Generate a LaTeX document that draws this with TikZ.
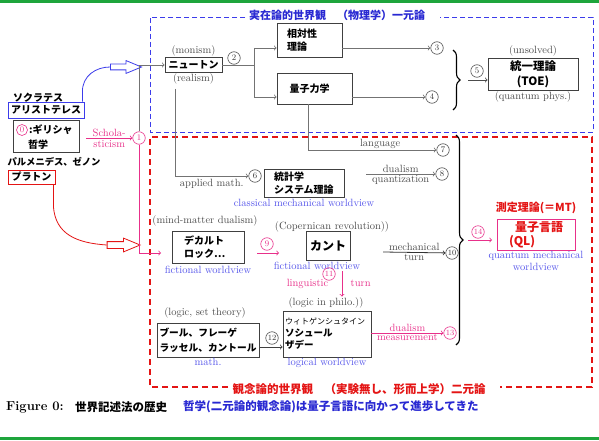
\documentclass[tikz,border=0pt]{standalone}
\usepackage{fontspec}
\usepackage{xcolor}
\usepackage{tikz}
\usetikzlibrary{positioning, arrows.meta, shapes.arrows, decorations.pathreplacing}

\newfontfamily\jp{Noto Sans CJK JP}
\newcommand{\fsz}[2]{\fontsize{#1}{#2}\selectfont}

\definecolor{bleutitre}{RGB}{40,40,210}
\definecolor{bleuvue}{RGB}{85,85,235}
\definecolor{bleutrait}{RGB}{60,60,235}
\definecolor{rose}{RGB}{232,48,138}
\definecolor{rouge}{RGB}{228,20,20}
\definecolor{vert}{RGB}{30,165,60}
\definecolor{gris}{RGB}{115,115,115}

\begin{document}
\begin{tikzpicture}[x=1pt, y=-1pt, >=to,
        box/.style={draw=black!75, line width=0.8pt, inner sep=2pt, font=\jp\bfseries\fsz{10}{13}},
        jtxt/.style={font=\jp\bfseries\fsz{10}{13}, inner sep=0pt},
        lbl/.style={text=black!70, font=\fsz{10.5}{12}, inner sep=1pt},
        vue/.style={text=bleuvue, font=\fsz{10.5}{12}, inner sep=1pt},
        num/.style={circle, draw=black!70, text=black!80, inner sep=0pt, minimum size=12.5pt, font=\fsz{8.5}{9}, line width=0.6pt},
        pnum/.style={num, draw=rose, text=rose},
        ligne/.style={draw=gris, line width=0.8pt},
        conn/.style={->, draw=gris, line width=0.8pt},
        pconn/.style={->, draw=rose, line width=0.8pt},
        accolade/.style={decorate, decoration={brace, amplitude=7pt}, line width=1.1pt}]

    % Fond et lignes vertes
    \path[fill=white, use as bounding box] (0,0) rectangle (599,441);
    \draw[vert, line width=2.5pt] (0,1.3) -- (599,1.3);
    \draw[vert, line width=2.5pt] (0,438.7) -- (599,438.7);

    % Cadres en pointillés avec titres
    \node[font=\jp\bfseries\fsz{11}{13}, text=bleutitre] (titrereel) at (337,15) {実在論的世界観　（物理学）一元論};
    \draw[bleutrait, line width=0.8pt, dash pattern=on 5pt off 3pt] (245,17) -- (150,17) -- (150,132) -- (593,132) -- (593,17) -- (440,17);
    \node[font=\jp\bfseries\fsz{11.5}{13}, text=rouge] (titreideal) at (359,389) {観念論的世界観　（実験無し、形而上学）二元論};
    \draw[rouge, line width=1.5pt, dash pattern=on 6pt off 4pt] (228,387) -- (150,387) -- (150,137) -- (592,137) -- (592,387) -- (500,387);

    % Philosophie grecque
    \node[jtxt] (socrate) at (38,98) {ソクラテス};
    \node[box, draw=bleutrait, minimum width=76pt, minimum height=16pt, inner sep=1pt] (aristo) at (46,110) {アリストテレス};
    \node[box, minimum width=66pt, minimum height=32pt] (grec) at (46,136) {};
    \node[pnum, minimum size=11pt] (n0) at (22,130) {0};
    \node[jtxt, right=1pt of n0] (grecA) {:ギリシャ};
    \node[jtxt] (grecB) at (38,145) {哲学};
    \node[jtxt, font=\jp\bfseries\fsz{9.3}{11}] (parmen) at (54,162) {パルメニデス、ゼノン};
    \node[box, draw=rouge, minimum width=47pt, minimum height=14pt, inner sep=1pt] (platon) at (31.5,177) {プラトン};

    % Flèches creuses
    \node[single arrow, draw=bleutrait, fill=white, line width=0.8pt, minimum height=31pt, minimum width=12pt,
          inner xsep=0pt, inner ysep=2.5pt, single arrow head extend=3.5pt, single arrow tip angle=45] (fbleue) at (122.5,67) {};
    \draw[bleutrait, line width=0.8pt] ([xshift=-2pt]aristo.north east) -- ++(0,-10) .. controls +(0,-16) and +(-14,0) .. (fbleue.tail);
    \node[single arrow, draw=rouge, fill=white, line width=0.8pt, minimum height=33pt, minimum width=13pt,
          inner xsep=0pt, inner ysep=3pt, single arrow head extend=3.5pt, single arrow tip angle=45] (frouge) at (119.5,245) {};
    \draw[rouge, line width=0.8pt] ([xshift=-2pt]platon.south east) -- ++(0,22) .. controls +(2,28) and +(-30,-2) .. (frouge.tail);

    % Monde réaliste (physique)
    \node[box, minimum width=57pt, minimum height=15pt, inner sep=1pt] (newton) at (193.5,65) {ニュートン};
    \node[lbl, above=0pt of newton] (monism) {(monism)};
    \node[lbl, below=0pt of newton] (realism) {(realism)};
    \node[num] (n2) at (234,58) {2};
    \coordinate (fourche) at (254,65);
    \coordinate (f1) at (254,48);
    \coordinate (f2) at (254,97);
    \draw[ligne] (newton.east) -- (fourche);
    \draw[ligne] (f1) -- (f2);
    \node[box, minimum width=65pt, minimum height=34pt, text width=45pt, align=left] (relat) at (309.5,40) {相対性\\理論};
    \node[box, minimum width=75pt, minimum height=31pt, text width=50pt, align=left] (ryoshi) at (314.5,88.5) {量子力学};
    \draw[conn] (f1) -- (f1 -| relat.west);
    \draw[conn] (f2) -- (f2 -| ryoshi.west);
    \node[num] (n3) at (437,48) {3};
    \node[num] (n4) at (432,97) {4};
    \draw[conn] (n3 -| relat.east) -- (n3);
    \draw[conn] (n4 -| ryoshi.east) -- (n4);
    \draw[accolade] (453,50) -- (453,110);
    \node[box, minimum width=90pt, minimum height=32pt, align=center, font=\jp\bfseries\fsz{11.5}{15}] (toe) at (533,74) {統一理論\\(TOE)};
    \node[lbl, above=0pt of toe] (unsolved) {(unsolved)};
    \node[lbl, below=0pt of toe] (qphys) {(quantum phys.)};
    \node[num] (n5) at (477,71) {5};
    \coordinate (a5) at (468,80);
    \draw[conn, draw=black!70] (a5) -- (toe.west |- a5);

    % Scolastique
    \node[pnum] (n1) at (139,138) {1};
    \coordinate (scho) at (86,138);
    \draw[pconn] (scho) -- (n1) node[midway, above, text=rose, font=\fsz{10.5}{12}, inner sep=1pt] {Schola-}
                                node[midway, below, text=rose, font=\fsz{10.5}{12}, inner sep=2pt] {sticism};
    \draw[conn] (n1.north) |- (newton.west);
    \coordinate (pbout) at (161,253);
    \draw[pconn] (n1.south) |- (pbout);

    % Vers le monde idéaliste
    \node[num] (n7) at (443,150) {7};
    \draw[conn] ([xshift=-6pt]ryoshi.south) |- (n7) node[lbl, pos=0.78, above] {language};
    \node[num] (n6) at (255,176) {6};
    \coordinate (r0) at (175,89);
    \draw[conn] (r0) |- (n6) node[lbl, pos=0.75, below=2pt] {applied math.};
    \node[box, minimum width=80pt, minimum height=28pt, text width=60pt, align=left] (stat) at (304,183) {統計学\\システム理論};
    \node[vue, below=1pt of stat] (classvue) {classical mechanical worldview};
    \node[num] (n8) at (442,174) {8};
    \coordinate (a8) at (366,174);
    \draw[conn] (a8) -- (n8) node[lbl, midway, above] {dualism} node[lbl, midway, below] {quantization};

    % Monde idéaliste
    \node[lbl] (mindm) at (205,221) {(mind-matter dualism)};
    \node[box, minimum width=72pt, minimum height=32pt, text width=48pt, align=left] (descartes) at (208,247) {デカルト\\ロック…};
    \node[vue, below=1pt of descartes] (fictvueA) {fictional worldview};
    \node[pnum] (n9) at (267,244) {9};
    \coordinate (a9) at (257,253);
    \coordinate (b9) at (279,253);
    \draw[pconn] (a9) -- (b9);
    \node[lbl] (copern) at (332,227) {(Copernican revolution))};
    \node[box, minimum width=44pt, minimum height=29pt, font=\jp\bfseries\fsz{12}{14}] (kant) at (328,245.5) {カント};
    \node[vue, below=0pt of kant, xshift=-11pt] (fictvueB) {fictional worldview};
    \node[num, font=\fsz{8}{9}] (n10) at (452,253) {10};
    \coordinate (a10) at (383,252);
    \draw[conn, draw=black!80] (a10) -- (n10) node[lbl, midway, above] {mechanical} node[lbl, midway, below] {turn};

    % Tournant linguistique
    \node[pnum, font=\fsz{8}{9}] (n11) at (329,274) {11};
    \node[lbl] (philo) at (326,303) {(logic in philo.))};
    \coordinate (h11) at (342,271);
    \draw[pconn] (h11) -- (h11 |- philo.north) node[midway, left=10pt, text=rose, font=\fsz{10.5}{12}] {linguistic}
                                               node[midway, right=5pt, text=rose, font=\fsz{10.5}{12}] {turn};
    \node[lbl] (settheo) at (205,313) {(logic, set theory)};
    \node[box, minimum width=102pt, minimum height=34pt, align=left, font=\jp\bfseries\fsz{9.7}{15}] (boole) at (208,340) {ブール、フレーゲ\\ラッセル、カントール};
    \node[vue, below=0pt of boole] (mathvue) {math.};
    \node[box, minimum width=88pt, minimum height=46pt, text width=84pt, align=left, font=\jp\bfseries\fsz{9.5}{12}] (witt) at (327,334)
        {{\fsz{8}{12}\mdseries ウィトゲンシュタイン}\\ソシュール\\ザデー};
    \node[vue, below=0pt of witt] (logvue) {logical worldview};
    \node[num, font=\fsz{8}{9}] (n12) at (272,338) {12};
    \coordinate (a12) at (259,347);
    \draw[conn, draw=black!75] (a12) -- (a12 -| witt.west);
    \node[pnum, font=\fsz{8}{9}] (n13) at (450,333) {13};
    \draw[pconn] (witt.east |- n13) -- (n13) node[midway, above, text=rose, font=\fsz{10.5}{12}, inner sep=1pt] {dualism}
                                            node[midway, below, text=rose, font=\fsz{10.5}{12}, inner sep=1pt] {measurement};

    % Langage quantique
    \draw[accolade] (456,135) -- (456,345);
    \node[pnum, font=\fsz{8}{9}] (n14) at (478,232) {14};
    \coordinate (a14) at (468,240);
    \coordinate (b14) at (492,240);
    \draw[pconn] (a14) -- (b14);
    \node[font=\jp\bfseries\fsz{11}{13}, text=rouge] (mt) at (536,208) {測定理論(＝MT)};
    \node[box, draw=rose, text=rouge, minimum width=78pt, minimum height=31pt, align=left, font=\jp\bfseries\fsz{12}{14}] (ql) at (536,234.5) {\hspace{6pt}量子言語\\(QL)};
    \node[vue, below=0pt of ql, align=center] (qmvue) {quantum mechanical\\worldview};

    % Légende
    \node[font=\bfseries\fsz{13}{15}, anchor=west, inner sep=0pt] (fig) at (6,407) {Figure 0:};
    \node[font=\jp\bfseries\fsz{11.5}{13}, anchor=west, inner sep=0pt] (hist) at (75,407) {世界記述法の歴史};
    \node[font=\jp\bfseries\fsz{11.5}{13}, text=bleutitre, anchor=west, inner sep=0pt] (prog) at (183,407) {哲学(二元論的観念論)は量子言語に向かって進歩してきた};

\end{tikzpicture}
\end{document}
